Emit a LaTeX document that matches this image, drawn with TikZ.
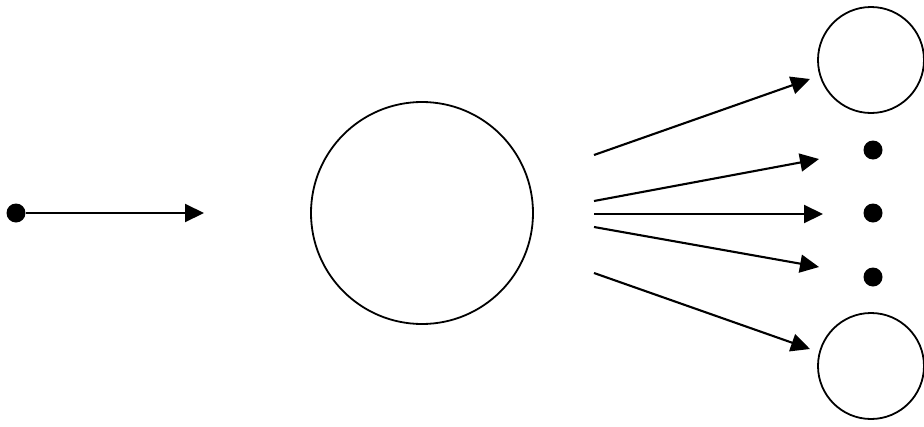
\documentclass[tikz,border=0pt]{standalone}
\usetikzlibrary{arrows.meta, positioning}
\tikzset{
  state/.style={circle, draw=black, line width=1.8pt, inner sep=0pt},
  point/.style={circle, fill=black, inner sep=0pt, minimum size=19pt},
  arrow/.style={line width=2.1pt, -{Triangle[length=19pt, width=18pt]}}
}
\begin{document}
\begin{tikzpicture}[x=1pt, y=-1pt]
  \useasboundingbox (0,0) rectangle (924,426);

  % Entrada
  \node[point] (in) at (16,213) {};
  \coordinate (t0) at (204,213);
  \draw[arrow] (in) -- (t0);

  % Nodo central
  \node[state, minimum size=222pt] (hub) at (422,213) {};

  % Nodos de salida
  \node[state, minimum size=106pt] (top) at (871,60) {};
  \node[point] (d1) at (873,150) {};
  \node[point] (d2) at (873,213) {};
  \node[point] (d3) at (873,277) {};
  \node[state, minimum size=106pt] (bot) at (871,366) {};

  % Abanico de flechas
  \foreach \i/\ys/\xe/\ye in {1/155/810/79, 2/201/819/159, 3/214/823/214, 4/227/819/267, 5/273/810/349} {
    \coordinate (s\i) at (594,\ys);
    \coordinate (e\i) at (\xe,\ye);
    \draw[arrow] (s\i) -- (e\i);
  }
\end{tikzpicture}
\end{document}
